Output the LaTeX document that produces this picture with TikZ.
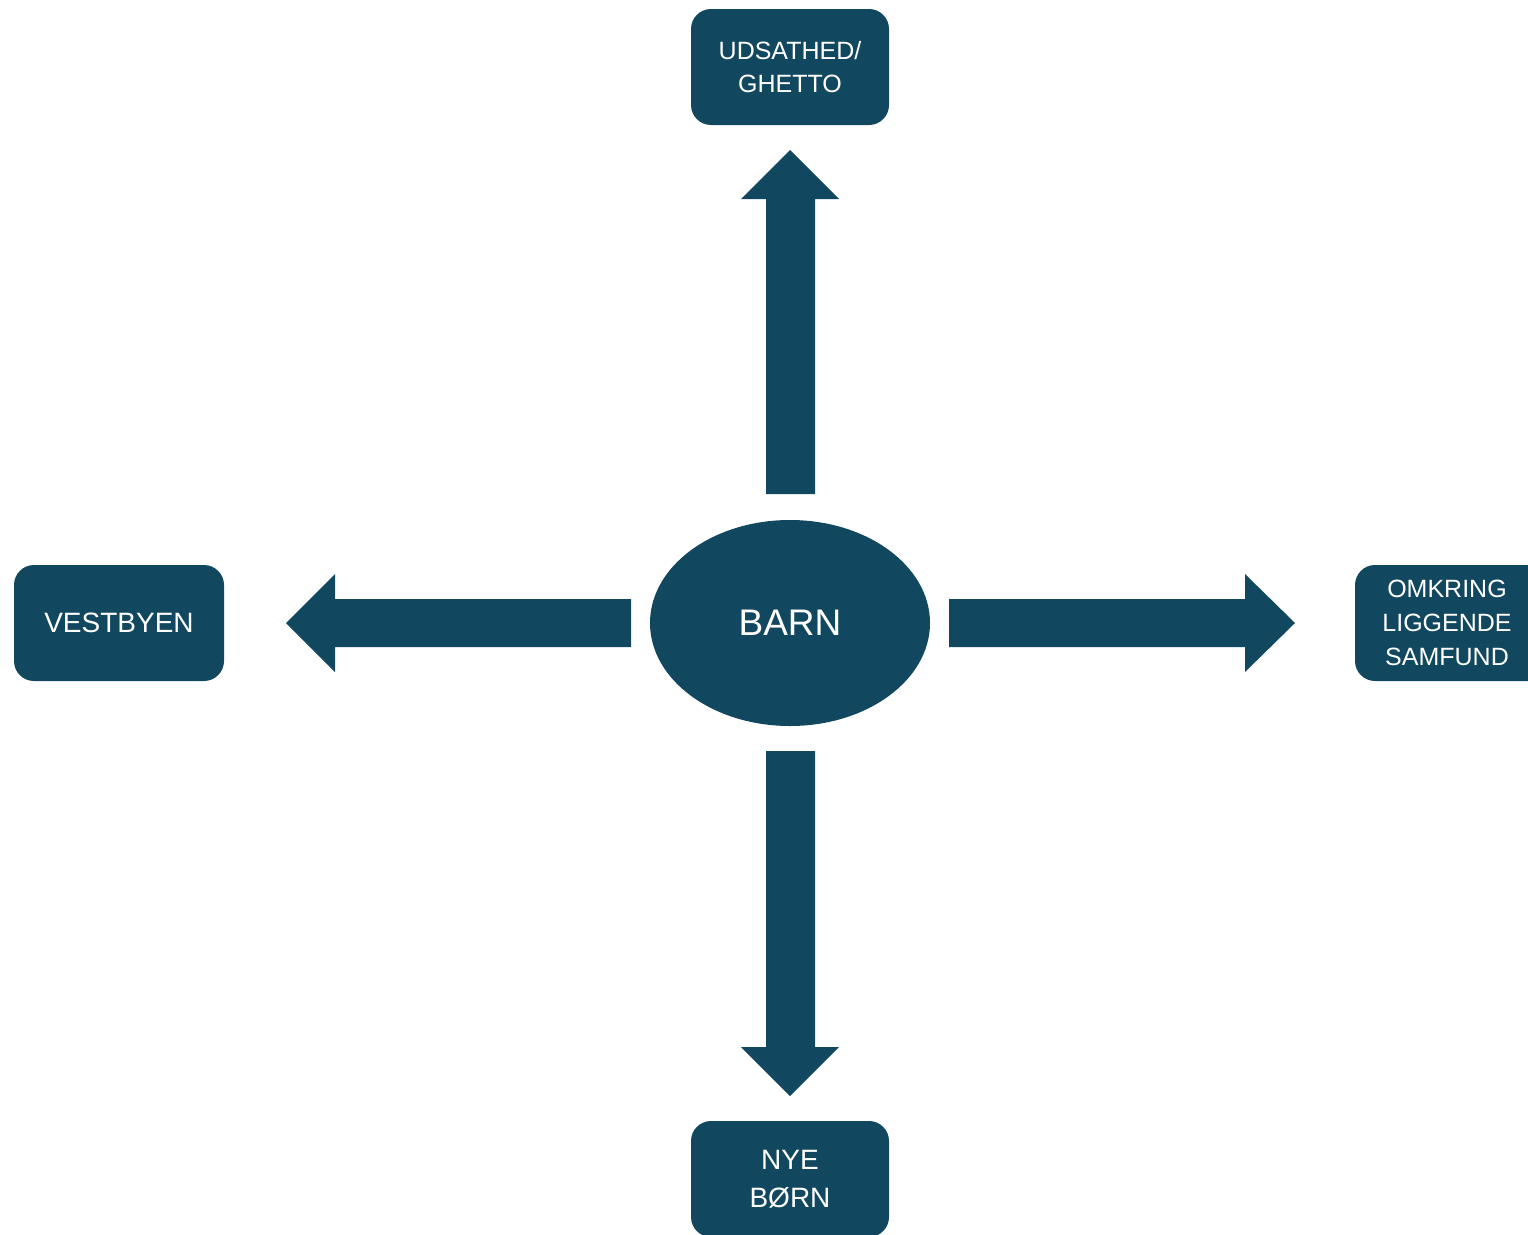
\documentclass[tikz,border=0pt]{standalone}
\usepackage{fontspec}
\setmainfont{Liberation Sans}
\usetikzlibrary{shapes.geometric}
\definecolor{deepteal}{HTML}{11485F}
\tikzset{
  place/.style={fill=deepteal, rounded corners=20pt, inner sep=0pt},
  lbl/.style={text=white, align=center, inner sep=0pt},
  hub/.style={ellipse, fill=deepteal, text=white, inner sep=0pt,
              minimum width=280pt, minimum height=206pt},
  bigarrow/.style={fill=deepteal}
}
\begin{document}
\begin{tikzpicture}[x=1pt,y=-1pt]
  \useasboundingbox (0,0) rectangle (1528,1234);
  \clip (0,0) rectangle (1528,1234);

  % central ellipse
  \node[hub, font=\fontsize{37}{40}\selectfont] (barn) at (790,623) {BARN};

  % destination boxes
  \node[place, minimum width=198pt, minimum height=116pt] (ghetto) at (790,67) {};
  \node[lbl, font=\fontsize{25}{33}\selectfont] (ghettotxt) at (ghetto) {UDSATHED/\\GHETTO};

  \node[place, minimum width=210pt, minimum height=116pt] (vest) at (119,623) {};
  \node[lbl, font=\fontsize{28}{33}\selectfont] (vesttxt) at (vest) {VESTBYEN};

  \node[place, minimum width=210pt, minimum height=116pt] (omkring) at (1460,623) {};
  \node[lbl, font=\fontsize{25}{34}\selectfont] (omkringtxt) at (1447,623) {OMKRING\\LIGGENDE\\SAMFUND};

  \node[place, minimum width=198pt, minimum height=116pt] (nye) at (790,1179) {};
  \node[lbl, font=\fontsize{28}{38}\selectfont] (nyetxt) at (nye) {NYE\\BØRN};

  % block arrows from the hub outwards
  \fill[bigarrow] (766,494) -- (815,494) -- (815,199) -- (839,199) -- (790,150)
                  -- (741,199) -- (766,199) -- cycle;
  \fill[bigarrow] (631,599) -- (631,647) -- (335,647) -- (335,672) -- (286,623)
                  -- (335,574) -- (335,599) -- cycle;
  \fill[bigarrow] (949,599) -- (949,647) -- (1245,647) -- (1245,672) -- (1295,623)
                  -- (1245,574) -- (1245,599) -- cycle;
  \fill[bigarrow] (766,751) -- (815,751) -- (815,1047) -- (839,1047) -- (790,1096)
                  -- (741,1047) -- (766,1047) -- cycle;
\end{tikzpicture}
\end{document}
